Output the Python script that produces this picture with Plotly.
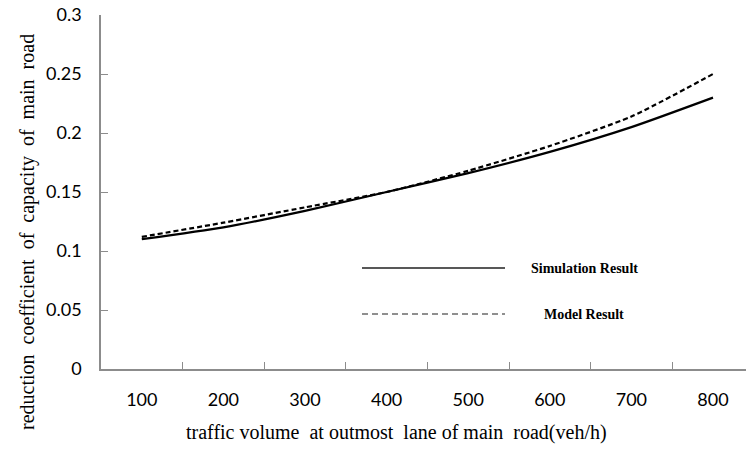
import plotly.graph_objects as go

# traffic volume categories (veh/h)
volume_labels = ["100", "200", "300", "400", "500", "600", "700", "800"]
simulation_result = [0.110, 0.120, 0.134, 0.150, 0.166, 0.184, 0.205, 0.230]
model_result = [0.112, 0.124, 0.137, 0.150, 0.168, 0.189, 0.214, 0.250]

y_tick_values = [0, 0.05, 0.1, 0.15, 0.2, 0.25, 0.3]
y_tick_labels = ["0", "0.05", "0.1", "0.15", "0.2", "0.25", "0.3"]

W, H = 746, 450
L, R, T, B = 101, 0, 15, 81
AXIS_GREY = "#8c8c8c"
x_pos = list(range(len(volume_labels)))

fig = go.Figure()
fig.add_trace(go.Scatter(
    x=x_pos, y=simulation_result, name="Simulation Result", mode="lines",
    line=dict(color="black", width=2.2, shape="spline", smoothing=0.6),
))
fig.add_trace(go.Scatter(
    x=x_pos, y=model_result, name="Model Result", mode="lines",
    line=dict(color="black", width=2.2, dash="5px,3px", shape="spline", smoothing=0.6),
))

plot_w = W - L - R
plot_h = H - T - B


def px_to_paper_x(px):
    return (px - L) / plot_w


def px_to_paper_y(py):
    return (H - B - py) / plot_h


# hand-drawn style legend: long sample line + bold serif caption
legend_rows = [("Simulation Result", 268, None, 1.4), ("Model Result", 314, "6px,4px", 1.2)]
for label, py, dash, lw in legend_rows:
    fig.add_shape(
        type="line", xref="paper", yref="paper",
        x0=px_to_paper_x(362), x1=px_to_paper_x(505),
        y0=px_to_paper_y(py), y1=px_to_paper_y(py),
        line=dict(color="#202020", width=lw, dash=dash),
    )
    fig.add_annotation(
        xref="paper", yref="paper", x=px_to_paper_x(584), y=px_to_paper_y(py),
        text=f"<b>{label}</b>", showarrow=False, xanchor="center", yanchor="middle",
        font=dict(family="Liberation Serif", size=14, color="black"),
    )

# axis titles
fig.add_annotation(
    xref="paper", yref="paper", x=px_to_paper_x(396), y=px_to_paper_y(432),
    text="traffic volume  at outmost  lane of main  road(veh/h)".replace("  ", " \u00a0"),
    showarrow=False, xanchor="center", yanchor="middle",
    font=dict(family="Liberation Serif", size=20, color="black"),
)
fig.add_annotation(
    xref="paper", yref="paper", x=px_to_paper_x(27), y=px_to_paper_y(232),
    text="reduction coefficient of capacity of main road".replace(" ", " \u00a0"),
    textangle=-90, showarrow=False, xanchor="center", yanchor="middle",
    font=dict(family="Liberation Serif", size=20, color="black"),
)

fig.update_layout(
    width=W, height=H,
    margin=dict(l=L, r=R, t=T, b=B, pad=0),
    paper_bgcolor="white", plot_bgcolor="white",
    showlegend=False,
    xaxis=dict(
        range=[-0.5, -0.5 + plot_w / 81.6],
        tickmode="array", tickvals=x_pos, ticktext=volume_labels,
        ticks="inside", ticklen=0, tickcolor=AXIS_GREY,
        minor=dict(tickmode="array", tickvals=[i + 0.5 for i in x_pos[:-1]],
                   ticks="inside", ticklen=7, tickcolor=AXIS_GREY, tickwidth=1),
        showline=True, linecolor=AXIS_GREY, linewidth=1.5,
        showgrid=False, zeroline=False,
        ticklabelstandoff=14,
        tickfont=dict(family="Lato", size=18, color="black"),
    ),
    yaxis=dict(
        range=[0, 0.3],
        tickmode="array", tickvals=y_tick_values, ticktext=y_tick_labels,
        ticks="inside", ticklen=7, tickcolor=AXIS_GREY,
        showline=True, linecolor=AXIS_GREY, linewidth=1.5,
        showgrid=False, zeroline=False,
        ticklabelstandoff=14,
        tickfont=dict(family="Lato", size=18, color="black"),
    ),
)

fig.write_html("out.html")
